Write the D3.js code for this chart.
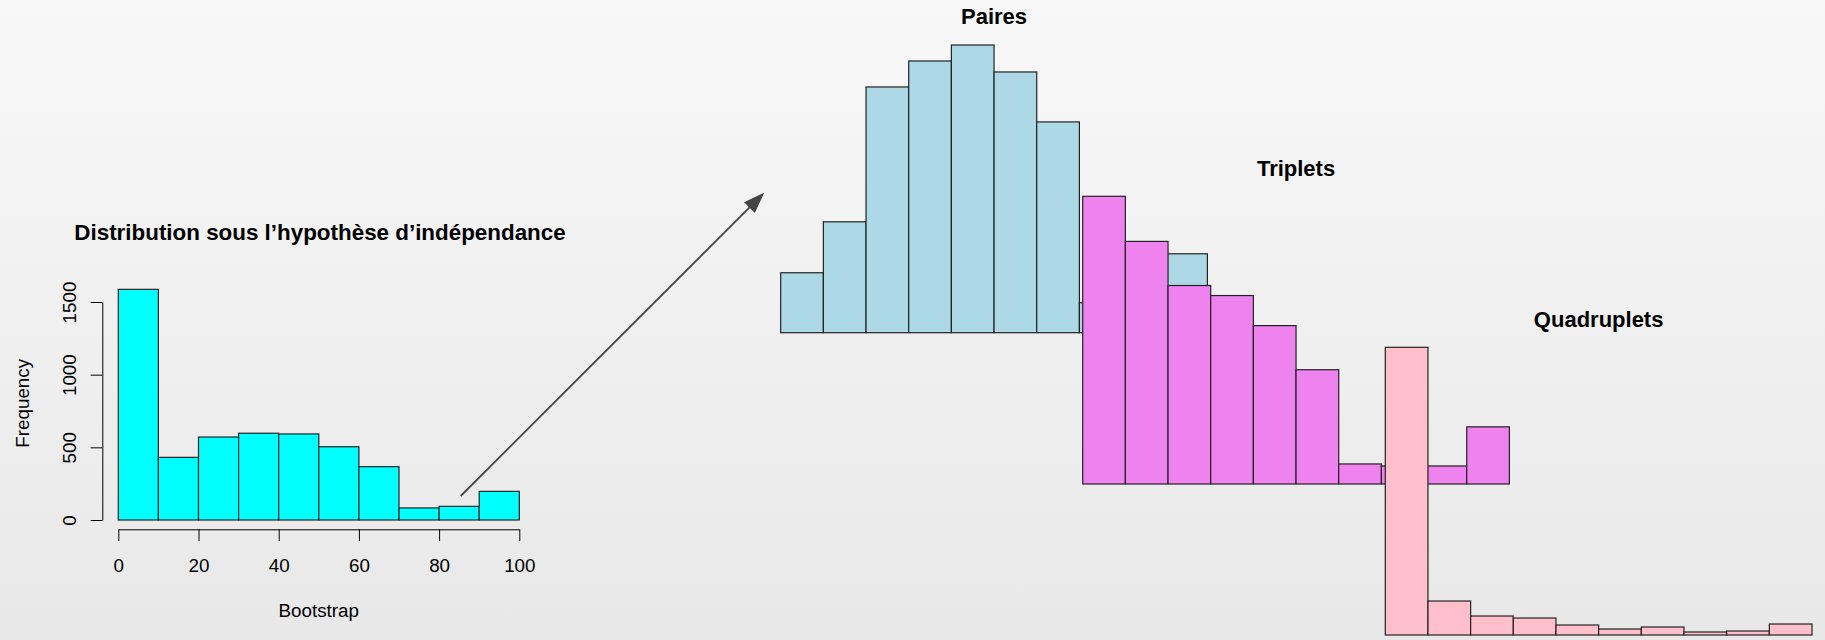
<!DOCTYPE html>
<html>
<head>
<meta charset="utf-8">
<script src="https://cdn.jsdelivr.net/npm/d3@7/dist/d3.min.js"></script>
<style>
  html, body { margin: 0; padding: 0; }
  svg { display: block; font-family: "Liberation Sans", Arial, Helvetica, sans-serif; }
</style>
</head>
<body>
<svg id="chart" width="1825" height="640"></svg>
<script>
// Bootstrap bins (0-100, width 10)
const binEdges = [0, 10, 20, 30, 40, 50, 60, 70, 80, 90, 100];

// Distribution under the independence hypothesis
const indepCounts = [1587, 431, 571, 597, 592, 504, 367, 83, 94, 197];
const indepYTicks = [0, 500, 1000, 1500];
const indepXTicks = [0, 20, 40, 60, 80, 100];

// Observed distributions
const pairesCounts = [60, 111, 246, 272, 288, 261, 211, 30, 25, 79];
const tripletsCounts = [287, 242, 198, 188, 158, 114, 20, 18, 18, 57];
const quadrupletsCounts = [288, 34, 19, 17, 10, 6, 8, 3, 4, 11];

const titles = {
  indep: "Distribution sous l\u2019hypoth\u00e8se d\u2019ind\u00e9pendance",
  paires: "Paires",
  triplets: "Triplets",
  quadruplets: "Quadruplets"
};

const svg = d3.select("#chart");
const W = 1825, H = 640;

// background
const defs = svg.append("defs");
const grad = defs.append("linearGradient").attr("id", "bg")
  .attr("x1", 0).attr("y1", 0).attr("x2", 0).attr("y2", 1);
grad.append("stop").attr("offset", "0%").attr("stop-color", "#f8f8f8");
grad.append("stop").attr("offset", "100%").attr("stop-color", "#e8e8e8");
svg.append("rect").attr("width", W).attr("height", H).attr("fill", "url(#bg)");

const bins = indepCounts.map((_, i) => ({ x0: binEdges[i], x1: binEdges[i + 1] }));

function drawHist(counts, x, y, fill) {
  const g = svg.append("g");
  g.selectAll("rect")
    .data(counts.map((c, i) => ({ ...bins[i], c })))
    .join("rect")
    .attr("x", d => x(d.x0))
    .attr("width", d => x(d.x1) - x(d.x0))
    .attr("y", d => y(d.c))
    .attr("height", d => y(0) - y(d.c))
    .attr("fill", fill)
    .attr("stroke", "#222")
    .attr("stroke-width", 1.2);
  return g;
}

// ---- left panel: independence hypothesis ----
const xL = d3.scaleLinear().domain([0, 100]).range([118.3, 519.3]);
const yL = d3.scaleLinear().domain([0, 1500]).range([520, 302]);

drawHist(indepCounts, xL, yL, "#00ffff");

const axisFont = 18.8;

const yAxis = svg.append("g")
  .attr("transform", "translate(102.3,0)")
  .call(d3.axisLeft(yL).tickValues(indepYTicks).tickSize(11.6).tickSizeOuter(0).tickFormat(d3.format("d")));
yAxis.selectAll("text")
  .attr("transform", "rotate(-90)")
  .attr("x", 0).attr("y", -33.1).attr("dy", "0.35em")
  .attr("text-anchor", "middle");

const xAxis = svg.append("g")
  .attr("transform", "translate(0,529.3)")
  .call(d3.axisBottom(xL).tickValues(indepXTicks).tickSize(11.7).tickSizeOuter(0).tickFormat(d3.format("d")));
xAxis.selectAll("text").attr("y", 0).attr("dy", 0)
  .attr("transform", "translate(0,42.4)");

[yAxis, xAxis].forEach(a => {
  a.selectAll("path, line").attr("stroke", "#000").attr("stroke-width", 1);
  a.selectAll("text").attr("fill", "#000").style("font-size", axisFont + "px")
    .style("font-family", "\"Liberation Sans\", Arial, sans-serif");
});

svg.append("text")
  .attr("x", xL(50)).attr("y", 616.7)
  .attr("text-anchor", "middle")
  .style("font-size", axisFont + "px")
  .text("Bootstrap");

svg.append("text")
  .attr("transform", "translate(29.3,403.3) rotate(-90)")
  .attr("text-anchor", "middle")
  .style("font-size", axisFont + "px")
  .text("Frequency");

svg.append("text")
  .attr("x", 320).attr("y", 240)
  .attr("text-anchor", "middle")
  .style("font-size", "22.4px").style("font-weight", "bold")
  .text(titles.indep);

// ---- arrow ----
const arrowFrom = [460.7, 496], arrowTo = [764.3, 192.7];
const ang = Math.atan2(arrowTo[1] - arrowFrom[1], arrowTo[0] - arrowFrom[0]);
const headLen = 21, headHalf = 7.6;
const base = [arrowTo[0] - headLen * Math.cos(ang), arrowTo[1] - headLen * Math.sin(ang)];
svg.append("line")
  .attr("x1", arrowFrom[0]).attr("y1", arrowFrom[1])
  .attr("x2", base[0] + 3 * Math.cos(ang)).attr("y2", base[1] + 3 * Math.sin(ang))
  .attr("stroke", "#444").attr("stroke-width", 1.8);
svg.append("path")
  .attr("d", d3.line()([
    arrowTo,
    [base[0] + headHalf * Math.sin(ang), base[1] - headHalf * Math.cos(ang)],
    [base[0] - headHalf * Math.sin(ang), base[1] + headHalf * Math.cos(ang)]
  ]) + "Z")
  .attr("fill", "#444");

// ---- right panels ----
const panels = [
  { counts: pairesCounts, title: titles.paires, x0: 780.7, base: 332.7, fill: "#add8e6", titleY: 24 },
  { counts: tripletsCounts, title: titles.triplets, x0: 1082.7, base: 484, fill: "#ee82ee", titleY: 175.7 },
  { counts: quadrupletsCounts, title: titles.quadruplets, x0: 1385.3, base: 635, fill: "#ffc0cb", titleY: 326.7 }
];
const panelWidth = 426.7, panelHeight = 287.7;

panels.forEach(p => {
  const x = d3.scaleLinear().domain([0, 100]).range([p.x0, p.x0 + panelWidth]);
  const y = d3.scaleLinear().domain([0, d3.max(p.counts)]).range([p.base, p.base - panelHeight]);
  drawHist(p.counts, x, y, p.fill);
  svg.append("text")
    .attr("x", x(50)).attr("y", p.titleY)
    .attr("text-anchor", "middle")
    .style("font-size", "22px").style("font-weight", "bold")
    .text(p.title);
});
</script>
</body>
</html>
